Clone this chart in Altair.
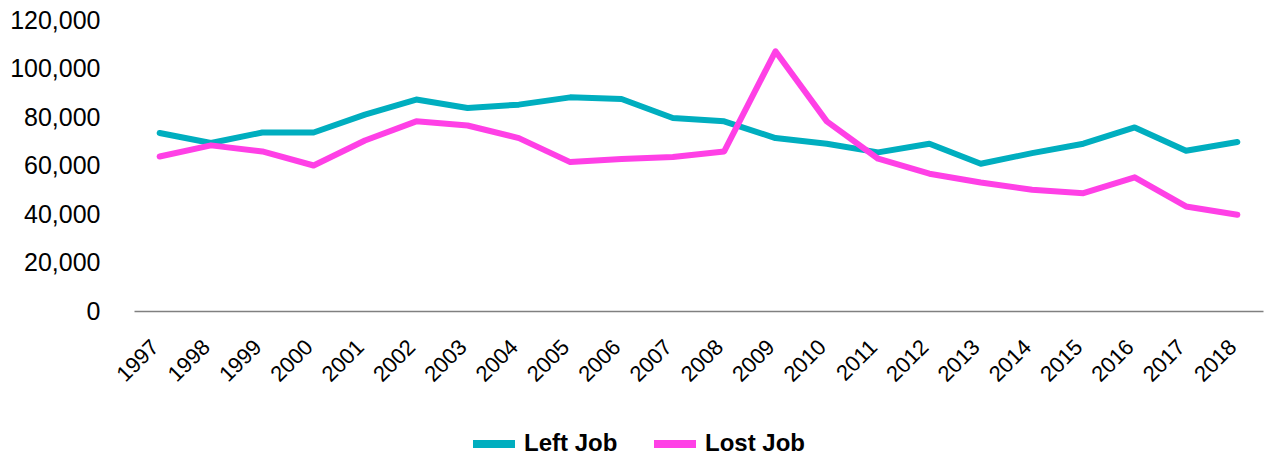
import altair as alt
import pandas as pd

years = [str(y) for y in range(1997, 2019)]
left_job = [73400, 69300, 73600, 73600, 81000, 87200, 83700, 85100, 88100, 87400, 79600,
            78200, 71300, 69000, 65400, 69000, 60700, 65100, 69000, 75700, 66100, 69700]
lost_job = [63700, 68300, 65800, 60000, 70300, 78200, 76500, 71300, 61400, 62700, 63500,
            65800, 107100, 78200, 62800, 56600, 53000, 50000, 48600, 55100, 43100, 39700]
series = ["Left Job", "Lost Job"]
colors = ["#00AEBF", "#FF40E6"]
y_ticks = [0, 20000, 40000, 60000, 80000, 100000, 120000]

rows = []
for i, yr in enumerate(years):
    rows.append({"year": yr, "series": series[0], "value": left_job[i]})
    rows.append({"year": yr, "series": series[1], "value": lost_job[i]})
df = pd.DataFrame(rows)

FONT = "Liberation Sans"

chart = alt.Chart(df).mark_line(strokeWidth=6, strokeJoin="round", strokeCap="round").encode(
    x=alt.X("year:N", sort=years, scale=alt.Scale(type="point", padding=0.5),
            axis=alt.Axis(title=None, labelAngle=-45, labelFontSize=22, labelFont=FONT,
                          labelColor="black", ticks=False, domainColor="#808080",
                          domainWidth=1.5, labelPadding=37, labelBaseline="alphabetic",
                          labelAlign="right")),
    y=alt.Y("value:Q", scale=alt.Scale(domain=[0, 120000]),
            axis=alt.Axis(title=None, values=y_ticks, format=",d", labelFontSize=25,
                          labelFont=FONT, labelColor="black", ticks=False, domain=False,
                          grid=False, labelPadding=34)),
    color=alt.Color("series:N", scale=alt.Scale(domain=series, range=colors),
                    legend=alt.Legend(title=None, orient="none", direction="horizontal",
                                      legendX=335, legendY=399, symbolType="stroke",
                                      symbolSize=1764, symbolStrokeWidth=8,
                                      labelFontSize=24, labelFont=FONT, labelFontWeight="bold",
                                      labelColor="black", labelOffset=5, columnPadding=20)),
).properties(
    width=1129, height=291,
    autosize=alt.AutoSizeParams(type="none"),
    padding={"left": 134, "top": 20, "right": 4, "bottom": 147},
).configure_view(stroke=None)

chart.save("out.html", embed_options={"renderer": "svg", "actions": False})
